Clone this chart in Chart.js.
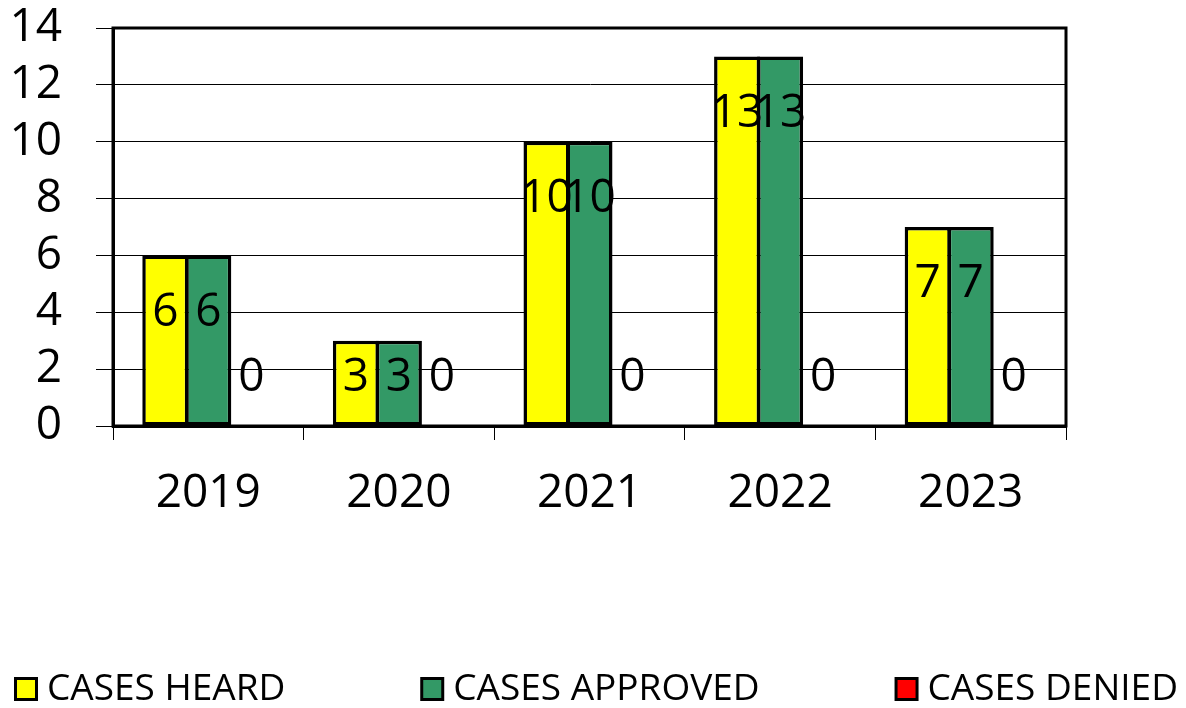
<!DOCTYPE html>
<html>
<head>
<meta charset="utf-8">
<script src="https://cdn.jsdelivr.net/npm/chart.js@4"></script>
<style>
html,body{margin:0;padding:0;background:#fff;}
#wrap{width:1186px;height:708px;position:relative;}
</style>
</head>
<body>
<div id="wrap"><canvas id="c" width="1186" height="708"></canvas></div>
<script>
const categories = ['2019', '2020', '2021', '2022', '2023'];
const casesHeard = [6, 3, 10, 13, 7];
const casesApproved = [6, 3, 10, 13, 7];
const casesDenied = [0, 0, 0, 0, 0];
const seriesNames = ['CASES HEARD', 'CASES APPROVED', 'CASES DENIED'];
const seriesColors = ['#FFFF00', '#339966', '#FF0000'];
const yTicks = [0, 2, 4, 6, 8, 10, 12, 14];

const FONT = "'Open Sans', 'Noto Sans', sans-serif";

const labelPlugin = {
  id: 'barLabels',
  afterDatasetsDraw(chart) {
    const ctx = chart.ctx;
    ctx.save();
    ctx.font = '46px ' + FONT;
    ctx.fillStyle = '#000';
    ctx.textAlign = 'center';
    ctx.textBaseline = 'middle';
    chart.data.datasets.forEach((ds, i) => {
      const meta = chart.getDatasetMeta(i);
      meta.data.forEach((el, j) => {
        const y = Math.min(el.y + 57, el.base - 48);
        ctx.fillText(String(ds.data[j]), el.x, y);
      });
    });
    ctx.restore();
  }
};

const framePlugin = {
  id: 'frame',
  afterDatasetsDraw(chart) {
    const a = chart.chartArea;
    const ctx = chart.ctx;
    ctx.save();
    ctx.strokeStyle = '#000';
    ctx.lineWidth = 3;
    ctx.strokeRect(a.left, a.top, a.right - a.left, a.bottom - a.top);
    ctx.restore();
  }
};

const legendPlugin = {
  id: 'spreadLegend',
  afterDraw(chart) {
    const ctx = chart.ctx;
    ctx.save();
    ctx.font = '37px ' + FONT;
    ctx.textBaseline = 'middle';
    ctx.textAlign = 'left';
    const box = 24, gap = 9, left = 14, right = 1178, cy = 689;
    const ds = chart.data.datasets;
    const widths = ds.map(d => box + gap + ctx.measureText(d.label).width);
    const total = widths.reduce((s, w) => s + w, 0);
    const space = (right - left - total) / (ds.length - 1);
    let x = left;
    ds.forEach((d, i) => {
      ctx.fillStyle = '#000';
      ctx.fillRect(x, cy - box / 2, box, box);
      ctx.fillStyle = d.backgroundColor;
      ctx.fillRect(x + 3, cy - box / 2 + 3, box - 6, box - 6);
      ctx.fillStyle = '#000';
      ctx.fillText(d.label, x + box + gap, cy);
      x += widths[i] + space;
    });
    ctx.restore();
  }
};

const seriesData = [casesHeard, casesApproved, casesDenied];

new Chart(document.getElementById('c'), {
  type: 'bar',
  data: {
    labels: categories,
    datasets: seriesNames.map((n, i) => ({
      label: n,
      data: seriesData[i],
      backgroundColor: seriesColors[i],
      borderColor: '#000',
      borderWidth: 3.5,
      borderSkipped: false,
      categoryPercentage: 0.677,
      barPercentage: 1.07
    }))
  },
  options: {
    responsive: false,
    animation: false,
    devicePixelRatio: 1,
    layout: { padding: { top: 28, right: 120, bottom: 182, left: 0 } },
    plugins: { legend: { display: false }, tooltip: { enabled: false } },
    scales: {
      x: {
        offset: true,
        grid: { offset: true, drawOnChartArea: false, tickLength: 14, color: '#000', lineWidth: 1 },
        border: { display: true, color: '#000', width: 3 },
        ticks: { color: '#000', font: { family: FONT, size: 46 }, padding: 26, autoSkip: false, maxRotation: 0 },
        afterFit(s) { s.height = 100; s.paddingLeft = 0; s.paddingRight = 0; }
      },
      y: {
        min: 0, max: 14,
        afterBuildTicks(s) { s.ticks = yTicks.map(v => ({ value: v })); },
        grid: { color: '#000', lineWidth: 1, tickLength: 17 },
        border: { display: true, color: '#000', width: 3 },
        ticks: { color: '#000', font: { family: FONT, size: 46, lineHeight: 1 }, padding: 34, autoSkip: false },
        afterFit(s) { s.width = 113; s.paddingTop = 0; s.paddingBottom = 0; }
      }
    }
  },
  plugins: [labelPlugin, framePlugin, legendPlugin]
});
</script>
</body>
</html>
